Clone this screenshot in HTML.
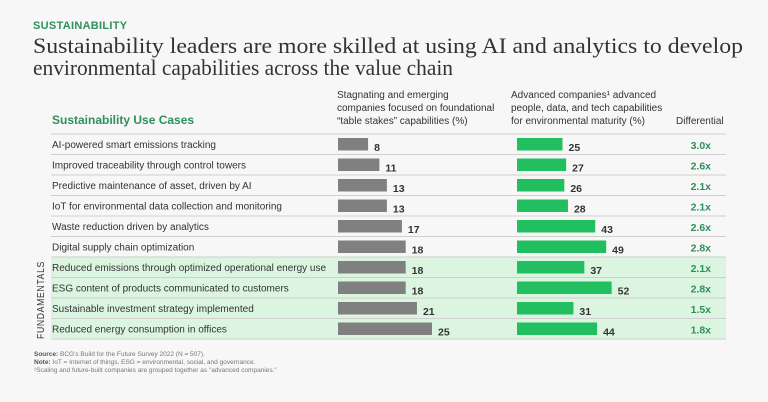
<!DOCTYPE html>
<html><head><meta charset="utf-8">
<style>
body{margin:0;background:#f7f7f7;}
svg{display:block;font-family:"Liberation Sans",sans-serif;}
</style></head>
<body>
<svg id="chart" width="768" height="402" viewBox="0 0 768 402" xmlns="http://www.w3.org/2000/svg">
<rect width="768" height="402" fill="#f7f7f7"/>
<text x="33" y="29" font-size="11" font-weight="bold" fill="#2f8f5b" letter-spacing="0.3">SUSTAINABILITY</text>
<text x="33" y="53" font-family="Liberation Serif, serif" font-size="22.5" fill="#333" textLength="710" lengthAdjust="spacingAndGlyphs">Sustainability leaders are more skilled at using AI and analytics to develop</text>
<text x="33" y="75" font-family="Liberation Serif, serif" font-size="22.5" fill="#333" textLength="420" lengthAdjust="spacingAndGlyphs">environmental capabilities across the value chain</text>
<text x="52" y="124" font-size="12" font-weight="bold" fill="#2f8f5b">Sustainability Use Cases</text>
<g font-size="10" fill="#333">
<text x="337" y="98">Stagnating and emerging</text>
<text x="337" y="111">companies focused on foundational</text>
<text x="337" y="124">“table stakes” capabilities (%)</text>
</g>
<g font-size="10" fill="#333">
<text x="511" y="98">Advanced companies¹ advanced</text>
<text x="511" y="111">people, data, and tech capabilities</text>
<text x="511" y="124">for environmental maturity (%)</text>
</g>
<text x="676" y="124" font-size="10" fill="#333">Differential</text>
<rect x="51" y="257" width="675" height="82" fill="#dcf5e0"/>
<text transform="translate(44,339) rotate(-90)" font-size="10.5" fill="#333" letter-spacing="0.8" textLength="78" lengthAdjust="spacingAndGlyphs">FUNDAMENTALS</text>
<g id="rows"></g>
<g font-size="6.5" fill="#777">
<text x="34" y="356"><tspan font-weight="bold" fill="#555">Source:</tspan> BCG's Build for the Future Survey 2022 (N = 507).</text>
<text x="34" y="364"><tspan font-weight="bold" fill="#555">Note:</tspan> IoT = Internet of things. ESG = environmental, social, and governance.</text>
<text x="34" y="372">¹Scaling and future-built companies are grouped together as "advanced companies."</text>
</g>
</svg>
<script>
const categories=["AI-powered smart emissions tracking","Improved traceability through control towers","Predictive maintenance of asset, driven by AI","IoT for environmental data collection and monitoring","Waste reduction driven by analytics","Digital supply chain optimization","Reduced emissions through optimized operational energy use","ESG content of products communicated to customers","Sustainable investment strategy implemented","Reduced energy consumption in offices"];
const grayValues=[8,11,13,13,17,18,18,18,21,25];
const greenValues=[25,27,26,28,43,49,37,52,31,44];
const differentials=["3.0x","2.6x","2.1x","2.1x","2.6x","2.8x","2.1x","2.8x","1.5x","1.8x"];
const NS="http://www.w3.org/2000/svg";
const g=document.getElementById('rows');
const top0=134, rowH=20.5;
const xGray=v=>v*3.76, xGreen=v=>v*1.82;
function mk(tag,attrs){const e=document.createElementNS(NS,tag);for(const k in attrs)e.setAttribute(k,attrs[k]);g.appendChild(e);return e;}
for(let i=0;i<=categories.length;i++){
  const l=mk('line',{x1:51,x2:726,y1:top0+i*rowH,y2:top0+i*rowH,stroke:'#cfcfcf','stroke-width':1});
  
  
}
categories.forEach((c,i)=>{
  const y=top0+i*rowH;
  const t=mk('text',{x:52,y:y+14,'font-size':10,fill:'#333'});t.textContent=c;
  
  
  const gw=xGray(grayValues[i]);
  const b1=mk('rect',{x:338,y:y+4,width:gw,height:12.5,fill:'#808080'});
  
  
  const v1=mk('text',{x:338+gw+6,y:y+17,'font-size':10.5,'font-weight':'bold',fill:'#333'});v1.textContent=grayValues[i];
  
  
  const ww=xGreen(greenValues[i]);
  const b2=mk('rect',{x:517,y:y+4,width:ww,height:12.5,fill:'#22bf60'});
  
  
  const v2=mk('text',{x:517+ww+6,y:y+17,'font-size':10.5,'font-weight':'bold',fill:'#333'});v2.textContent=greenValues[i];
  
  
  const d=mk('text',{x:711,y:y+15,'font-size':10.5,'font-weight':'bold',fill:'#2f8f5b','text-anchor':'end'});d.textContent=differentials[i];
  
  
});
</script>
</body></html>
